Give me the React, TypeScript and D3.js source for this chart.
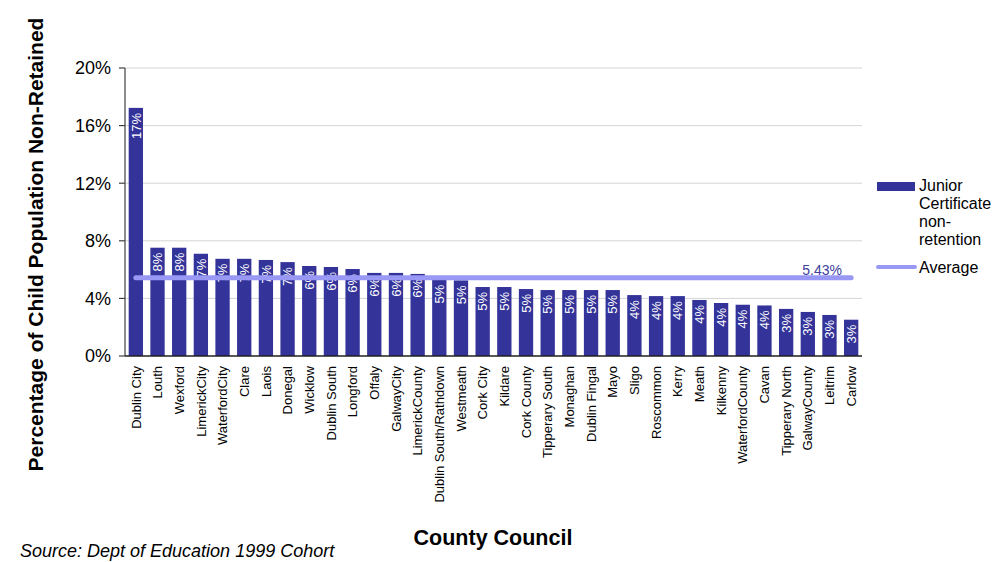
import React from "react";
import * as d3 from "d3";

// Junior Certificate non-retention by county council (percent of child population)
const counties: string[] = [
  "Dublin City", "Louth", "Wexford", "LimerickCity", "WaterfordCity", "Clare", "Laois",
  "Donegal", "Wicklow", "Dublin South", "Longford", "Offaly", "GalwayCity", "LimerickCounty",
  "Dublin South/Rathdown", "Westmeath", "Cork City", "Kildare", "Cork County", "Tipperary South",
  "Monaghan", "Dublin Fingal", "Mayo", "Sligo", "Roscommon", "Kerry", "Meath", "Kilkenny",
  "WaterfordCounty", "Cavan", "Tipperary North", "GalwayCounty", "Leitrim", "Carlow",
];

const nonRetention: number[] = [
  17.23, 7.52, 7.52, 7.1, 6.75, 6.75, 6.67,
  6.52, 6.25, 6.18, 6.04, 5.77, 5.77, 5.7,
  5.3, 5.25, 4.79, 4.79, 4.65, 4.58,
  4.58, 4.58, 4.58, 4.23, 4.16, 4.16, 3.89, 3.68,
  3.56, 3.51, 3.27, 3.06, 2.85, 2.52,
];

const averageValue = 5.43;
const yTicks: number[] = [0, 4, 8, 12, 16, 20];
const legendBarLines: string[] = ["Junior", "Certificate", "non-", "retention"];
const legendLineLabel = "Average";

const W = 1007;
const H = 562;
const plot = { left: 125, right: 862, top: 68, bottom: 356 };

const BAR = "#333399";
const AVG = "#9999f5";
const FONT = "'Liberation Sans', Arial, Helvetica, sans-serif";

export default function App() {
  const x = d3
    .scaleBand<string>()
    .domain(counties)
    .range([plot.left, plot.right])
    .paddingInner(0.34)
    .paddingOuter(0.17);
  const y = d3.scaleLinear().domain([0, 20]).range([plot.bottom, plot.top]);

  const firstCenter = (x(counties[0]) ?? 0) + x.bandwidth() / 2;
  const lastCenter = (x(counties[counties.length - 1]) ?? 0) + x.bandwidth() / 2;
  const avgLine = d3.line<number>()([
    [firstCenter, y(averageValue)],
    [lastCenter, y(averageValue)],
  ] as any) as string;

  return (
    <svg
      width={W}
      height={H}
      style={{ position: "fixed", left: 0, top: 0, background: "#fff" }}
      fontFamily={FONT}
    >
      {/* gridlines */}
      {yTicks.filter((t) => t > 0).map((t) => (
        <line key={"g" + t} x1={plot.left} x2={plot.right} y1={y(t)} y2={y(t)} stroke="#d4d4d4" strokeWidth={1} />
      ))}

      {/* bars */}
      {counties.map((c, i) => (
        <rect
          key={c}
          x={x(c)}
          y={y(nonRetention[i])}
          width={x.bandwidth()}
          height={plot.bottom - y(nonRetention[i])}
          fill={BAR}
        />
      ))}

      {/* value labels inside bars */}
      {counties.map((c, i) => {
        const cx = (x(c) ?? 0) + x.bandwidth() / 2;
        const ty = y(nonRetention[i]) + 5;
        return (
          <text
            key={"v" + c}
            transform={`translate(${cx},${ty}) rotate(-90)`}
            textAnchor="end"
            dy="0.36em"
            fontSize={13}
            fill="#ffffff"
          >
            {Math.round(nonRetention[i]) + "%"}
          </text>
        );
      })}

      {/* average line */}
      <path d={avgLine} stroke={AVG} strokeWidth={5} strokeLinecap="round" fill="none" />
      <text x={842} y={y(averageValue) - 3} textAnchor="end" fontSize={14} fill="#3d3d9c">
        {averageValue.toFixed(2) + "%"}
      </text>

      {/* y axis */}
      <line x1={plot.left} x2={plot.left} y1={plot.top} y2={plot.bottom} stroke="#404040" strokeWidth={1.2} />
      {yTicks.map((t) => (
        <g key={"t" + t}>
          <line x1={plot.left - 6} x2={plot.left} y1={y(t)} y2={y(t)} stroke="#404040" strokeWidth={1.2} />
          <text x={plot.left - 14} y={y(t)} dy="0.36em" textAnchor="end" fontSize={18} fill="#000">
            {t + "%"}
          </text>
        </g>
      ))}

      {/* x axis */}
      <line x1={plot.left} x2={plot.right} y1={plot.bottom} y2={plot.bottom} stroke="#202020" strokeWidth={1.5} />
      {counties.map((c) => {
        const cx = (x(c) ?? 0) + x.bandwidth() / 2;
        return (
          <text
            key={"x" + c}
            transform={`translate(${cx},${plot.bottom + 10}) rotate(-90)`}
            textAnchor="end"
            dy="0.36em"
            fontSize={13}
            fill="#000"
          >
            {c}
          </text>
        );
      })}

      {/* axis titles */}
      <text
        transform={`translate(43,${244.5}) rotate(-90)`}
        textAnchor="middle"
        fontSize={21}
        fontWeight="bold"
        fill="#000"
      >
        Percentage of Child Population Non-Retained
      </text>
      <text x={493} y={545} textAnchor="middle" fontSize={21.5} fontWeight="bold" fill="#000">
        County Council
      </text>

      {/* legend */}
      <rect x={877} y={182} width={38} height={9} fill={BAR} />
      {legendBarLines.map((s, i) => (
        <text key={s} x={919} y={191 + i * 18} fontSize={16} fill="#000">
          {s}
        </text>
      ))}
      <line x1={878} x2={915} y1={267} y2={267} stroke={AVG} strokeWidth={4} strokeLinecap="round" />
      <text x={919} y={272.5} fontSize={16} fill="#000">
        {legendLineLabel}
      </text>

      {/* source note */}
      <text x={20} y={557} fontSize={18} fontStyle="italic" fill="#000">
        Source: Dept of Education 1999 Cohort
      </text>
    </svg>
  );
}
